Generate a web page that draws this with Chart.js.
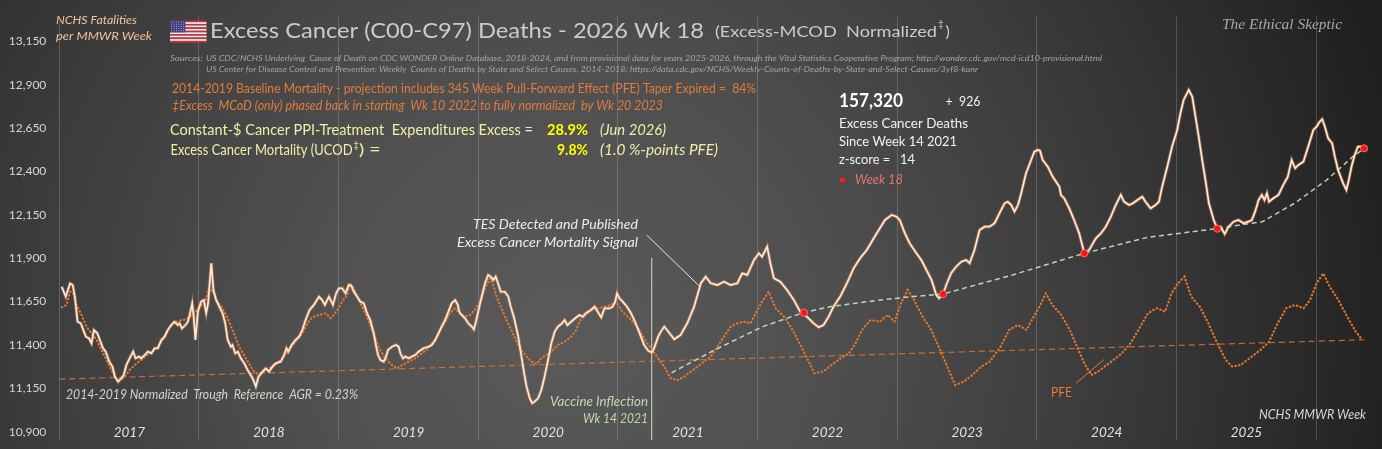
<!DOCTYPE html>
<html>
<head>
<meta charset="utf-8">
<script src="https://cdn.jsdelivr.net/npm/chart.js@4.4.1/dist/chart.umd.min.js"></script>
<style>
html, body { margin: 0; padding: 0; background: #2a2a2a; }
canvas { display: block; }
</style>
</head>
<body>
<canvas id="chart1" width="1382" height="449"></canvas>
<script>
// weeks counted from MMWR 2017 wk 1 (52 per year on the axis)
var weekTicks = [0, 52, 104, 156, 208, 260, 312, 364, 416, 468];
var yearLabels = ['2017', '2018', '2019', '2020', '2021', '2022', '2023', '2024', '2025', ''];
var deathTicks = [10900, 11150, 11400, 11650, 11900, 12150, 12400, 12650, 12900, 13150];

// NCHS weekly cancer deaths (normalized)
var mainWeeks = [
  0.9, 2.4, 4.0, 5.0, 5.8, 6.8, 8.0, 9.9, 11.1, 12.0,
  12.9, 14.2, 15.1, 16.3, 17.3, 18.6, 19.8, 20.7, 21.9, 23.1,
  24.0, 25.0, 26.2, 27.5, 28.4, 29.7, 30.5, 31.8, 33.0, 34.3,
  35.5, 36.7, 38.0, 39.2, 40.4, 41.7, 42.9, 44.1, 44.8, 45.7,
  47.0, 47.9, 48.7, 49.5, 50.1, 50.7, 51.6, 52.8, 53.8, 54.7,
  55.4, 56.1, 56.6, 57.4, 58.4, 59.6, 60.8, 61.8, 62.7, 63.9,
  64.5, 65.5, 66.5, 67.6, 68.9, 70.1, 72.0, 73.2, 74.2, 75.7,
  76.9, 78.1, 79.4, 80.6, 82.5, 83.7, 84.6, 85.3, 86.5, 88.0,
  89.3, 90.5, 91.7, 93.2, 94.8, 96.7, 97.9, 98.9, 100.4, 101.9,
  103.1, 104.1,
  105.3, 106.6, 107.8, 108.8, 109.7, 110.9, 112.1, 113.4, 114.6, 115.8,
  117.1, 117.9, 118.7, 119.6, 120.8, 121.7, 122.4, 123.9, 125.4, 126.4,
  127.0, 128.0, 128.8, 130.1, 131.3, 132.5, 133.8, 135.6, 137.5, 138.7,
  140.0, 141.2, 142.4, 143.7, 144.9, 146.1, 147.4, 148.4, 148.9, 149.8,
  151.1, 152.3, 153.6, 154.4, 155.0, 156.0, 157.3, 158.5, 159.7, 160.7,
  161.6, 162.5, 163.4, 164.4, 165.9, 167.2, 168.1, 169.4, 170.9, 172.1,
  173.1, 174.0, 175.2, 176.1, 177.0, 178.3, 179.5, 180.7, 182.0, 183.2,
  184.5, 185.7, 187.2, 188.2, 189.2, 190.6, 192.1, 193.7, 195.0, 196.2,
  198.1, 199.3, 200.5, 201.8, 203.0, 204.9, 206.1, 207.0, 207.7, 208.6,
  209.8, 211.4, 212.9, 214.1, 215.4, 216.6, 217.8, 219.3, 220.6, 221.5,
  223.0, 224.0,
  225.3, 229.0, 231.4, 233.9, 236.4, 238.9, 240.7, 242.6, 245.1, 247.5,
  250.0, 252.5, 254.3, 256.2, 258.7, 260.5, 261.7, 263.6, 264.8, 266.1,
  268.5, 271.0, 273.5, 275.9, 278.4, 280.9, 282.8, 284.6, 286.5, 288.3,
  290.8, 293.3, 295.8, 298.2, 300.7, 304.4, 307.5, 310.0, 311.8,
  313.0, 314.9, 316.7, 319.2, 321.0, 322.9, 324.8, 326.6, 327.6, 329.1,
  330.3, 332.1, 334.0, 335.9, 337.7, 339.0, 340.8, 342.7, 344.6, 346.4,
  348.3, 350.1, 352.0, 353.2, 354.5, 355.7, 357.0, 358.2, 360.0, 361.9,
  363.1, 364.4, 365.2, 366.2, 368.1, 369.9, 372.4, 373.0, 374.2, 376.1,
  377.9, 379.8, 381.7, 383.5, 386.0, 387.9, 389.7, 391.6, 393.4, 395.3,
  396.5, 398.4, 399.8, 401.5, 403.3, 404.5, 406.4, 408.2, 409.5, 410.7,
  412.6, 414.4, 416.3, 417.5, 418.7, 420.6, 421.9, 423.1, 424.3, 425.6,
  426.8, 428.1, 429.9, 431.2, 432.4, 434.0, 435.4, 437.3, 439.1, 441.0,
  442.8, 444.1, 445.3, 446.6, 447.8, 448.8, 449.7, 450.5, 452.1, 454.0,
  455.8, 457.5, 458.9, 460.2, 461.4, 463.3, 465.1, 467.0, 468.2, 469.4,
  470.3, 471.3, 472.5, 474.0, 475.0, 476.2, 478.1, 479.3, 480.2, 481.2,
  482.4, 483.6, 484.9, 485.9
];
var mainDeaths = [
  11736, 11679, 11755, 11746, 11679, 11534, 11525, 11448, 11438, 11409,
  11486, 11467, 11429, 11381, 11361, 11304, 11275, 11217, 11188, 11208,
  11227, 11285, 11323, 11362, 11323, 11333, 11323, 11342, 11362, 11352,
  11381, 11381, 11429, 11448, 11486, 11515, 11534, 11515, 11525, 11496,
  11515, 11534, 11583, 11640, 11554, 11429, 11592, 11650, 11659, 11583,
  11640, 11775, 11871, 11717, 11659, 11621, 11583, 11525, 11429, 11390,
  11400, 11352, 11361, 11323, 11294, 11256, 11208, 11160, 11217, 11246,
  11265, 11246, 11275, 11294, 11304, 11342, 11381, 11361, 11400, 11429,
  11448, 11486, 11544, 11602, 11631, 11679, 11659, 11631, 11679, 11631,
  11698, 11727,
  11727, 11698, 11746, 11740, 11707, 11679, 11650, 11640, 11583, 11544,
  11467, 11400, 11342, 11313, 11304, 11333, 11371, 11390, 11400, 11390,
  11352, 11323, 11333, 11323, 11333, 11342, 11361, 11381, 11390, 11400,
  11429, 11467, 11506, 11544, 11592, 11640, 11659, 11631, 11592, 11573,
  11554, 11525, 11506, 11490, 11525, 11592, 11679, 11755, 11804, 11794,
  11775, 11794, 11755, 11707, 11707, 11679, 11621, 11554, 11448, 11333,
  11236, 11160, 11092, 11064, 11073, 11092, 11140, 11217, 11313, 11409,
  11477, 11506, 11525, 11544, 11515, 11534, 11554, 11573, 11563, 11583,
  11602, 11621, 11592, 11559, 11611, 11611, 11621, 11650, 11698, 11669,
  11650, 11621, 11583, 11544, 11496, 11448, 11400, 11367, 11356, 11381,
  11448, 11477,
  11506, 11433, 11458, 11527, 11621, 11756, 11794, 11756, 11746, 11765,
  11746, 11756, 11813, 11804, 11890, 11929, 11909, 11967, 11871, 11785,
  11765, 11717, 11660, 11592, 11563, 11525, 11502, 11515, 11563, 11621,
  11679, 11756, 11842, 11900, 11948, 12044, 12121, 12150, 12140,
  12120, 12044, 11986, 11929, 11890, 11833, 11775, 11688, 11669, 11694,
  11746, 11814, 11852, 11880, 11890, 11871, 11948, 12063, 12082, 12082,
  12102, 12159, 12217, 12226, 12207, 12169, 12207, 12275, 12390, 12467,
  12515, 12525, 12520, 12467, 12428, 12371, 12313, 12265, 12246, 12188,
  12121, 12044, 11929, 11948, 12015, 12044, 12082, 12140, 12207, 12265,
  12226, 12207, 12217, 12236, 12255, 12226, 12188, 12207, 12226, 12313,
  12428, 12544, 12640, 12736, 12813, 12871, 12832, 12717, 12601, 12467,
  12352, 12217, 12121, 12071, 12082, 12040, 12082, 12111, 12121, 12102,
  12111, 12121, 12169, 12236, 12265, 12236, 12275, 12226, 12246, 12265,
  12323, 12371, 12467, 12419, 12438, 12457, 12544, 12640, 12659, 12688,
  12702, 12659, 12592, 12563, 12486, 12409, 12332, 12294, 12352, 12428,
  12496, 12544, 12544, 12534
];

// baseline mortality with pull-forward effect (dotted)
var pfeWeeks = [
  0.9, 2.7, 4.0, 5.2, 6.4, 8.3, 10.1, 12.0, 13.9, 15.7,
  17.6, 19.4, 21.3, 22.8, 24.4, 26.2, 28.7, 31.2, 33.6, 36.1,
  38.6, 40.4, 42.3, 44.8, 47.2, 49.7, 52.2, 54.0, 55.9, 57.1,
  59.0, 60.8, 62.7, 64.5, 67.0, 69.5, 72.0, 73.8, 75.7, 78.1,
  80.6, 83.1, 85.6, 88.0, 90.5, 92.4, 94.2, 96.7, 99.2, 101.0,
  102.2, 103.5, 105.3, 107.2,
  108.4, 109.7, 111.5, 114.0, 116.5, 118.9, 121.4, 123.9, 125.7, 127.6,
  130.1, 132.5, 135.0, 137.5, 139.9, 141.8, 143.7, 145.5, 147.4, 149.2,
  151.1, 152.9, 154.8, 156.6, 158.5, 160.4, 161.6, 162.8, 164.7, 166.5,
  168.4, 170.2, 172.1, 174.0, 175.8, 177.7, 179.5, 181.4, 183.2, 185.7,
  188.2, 190.6, 192.5, 193.7, 195.6, 198.1, 200.5, 203.0, 205.5, 207.3,
  209.2, 211.7, 214.1, 216.0, 217.8, 220.3,
  225.3, 227.7, 230.2, 232.7, 235.1, 237.6, 240.1, 242.6, 245.1, 247.5,
  250.0, 252.5, 255.0, 257.4, 259.3, 261.7, 264.2, 266.7, 269.9, 273.1,
  276.3, 278.8, 281.2, 284.4, 287.6, 290.9, 294.1, 296.5, 298.9, 302.1,
  305.4, 308.6, 311.0, 313.4, 315.9, 318.3, 321.5, 324.7, 328.0, 331.2,
  333.6, 336.8, 340.0, 343.3, 346.5, 350.5, 353.7, 357.0, 360.2, 361.8,
  365.0, 367.4, 369.8, 373.1, 376.3, 379.5, 382.0, 384.4, 386.8, 389.2,
  392.5, 395.7, 398.9, 402.2, 405.4, 408.6, 411.8, 414.2, 416.6, 419.0,
  421.5, 424.7, 427.9, 431.2, 434.4, 436.8, 440.0, 443.2, 447.3, 450.5,
  453.7, 456.9, 460.2, 463.4, 465.8, 468.2, 470.7, 473.1, 476.3, 479.6,
  482.8, 485.2
];
var pfeDeaths = [
  11617, 11631, 11707, 11698, 11631, 11573, 11506, 11467, 11429, 11371,
  11313, 11256, 11208, 11198, 11217, 11256, 11294, 11323, 11352, 11381,
  11429, 11486, 11525, 11540, 11548, 11573, 11621, 11640, 11727, 11707,
  11650, 11611, 11554, 11486, 11390, 11323, 11256, 11233, 11240, 11265,
  11290, 11323, 11371, 11419, 11467, 11525, 11559, 11573, 11583, 11554,
  11573, 11602, 11650, 11688,
  11755, 11727, 11659, 11583, 11486, 11390, 11323, 11284, 11265, 11284,
  11304, 11323, 11352, 11381, 11429, 11486, 11534, 11583, 11611, 11583,
  11563, 11573, 11602, 11650, 11727, 11784, 11746, 11679, 11611, 11544,
  11486, 11419, 11371, 11333, 11304, 11290, 11323, 11342, 11361, 11400,
  11419, 11448, 11486, 11534, 11583, 11611, 11611, 11621, 11631, 11650,
  11602, 11563, 11525, 11486, 11438, 11381,
  11275, 11208, 11198, 11217, 11246, 11275, 11304, 11333, 11390, 11448,
  11506, 11525, 11534, 11525, 11583, 11650, 11707, 11612, 11563, 11487,
  11390, 11313, 11237, 11246, 11285, 11323, 11352, 11410, 11486, 11544,
  11534, 11573, 11534, 11640, 11717, 11660, 11563, 11487, 11371, 11256,
  11169, 11188, 11227, 11275, 11304, 11390, 11487, 11515, 11487, 11534,
  11621, 11698, 11631, 11573, 11487, 11371, 11285, 11227, 11246, 11275,
  11313, 11352, 11410, 11496, 11583, 11612, 11592, 11698, 11756, 11794,
  11679, 11621, 11525, 11410, 11313, 11275, 11285, 11323, 11371, 11419,
  11525, 11612, 11631, 11612, 11660, 11756, 11813, 11736, 11660, 11563,
  11477, 11429
];

// 2014-2019 normalized trough reference, AGR 0.23%
var troughWeeks = [0, 486];
var troughDeaths = [11203, 11430];

// post-vaccine trough trend
var trendWeeks = [228, 244, 262, 277, 287, 306, 318, 329, 355, 381.5, 405, 431, 448, 460, 472, 482, 486];
var trendDeaths = [11240, 11371, 11506, 11586, 11621, 11660, 11679, 11694, 11804, 11928, 12020, 12071, 12111, 12217, 12352, 12490, 12534];

// week 18 markers
var wk18Weeks = [277.3, 329.1, 381.7, 431.2, 485.9];
var wk18Deaths = [11586, 11694, 11929, 12071, 12534];

var vaccineWeek = 220.6;

var FONT = 'Lato, "Open Sans", "DejaVu Sans", sans-serif';
var ORANGE = 'rgb(226,124,58)';
var CREAM = '#f1eea6';

function pts(xs, ys) {
    return xs.map(function (x, i) { return { x: x, y: ys[i] }; });
}

function label(c, s, x, y, o) {
    c.save();
    c.font = (o.style || 'normal') + ' ' + (o.weight || 'normal') + ' ' + (o.size || 13) + 'px ' + (o.family || FONT);
    c.fillStyle = o.color || '#d9d9d9';
    c.textAlign = o.align || 'left';
    c.textBaseline = 'alphabetic';
    var sx = 1;
    if (o.w) {
        sx = o.w / c.measureText(s).width;
        sx = Math.max(0.7, Math.min(1.3, sx));
    }
    c.translate(x, y);
    c.scale(sx, 1);
    c.fillText(s, 0, 0);
    c.restore();
}

function flag(c, x, y, w, h) {
    var sh = h / 13;
    for (var i = 0; i < 13; i++) {
        c.fillStyle = i % 2 ? '#eeeeee' : '#c3303f';
        c.fillRect(x, y + i * sh, w, sh + 0.2);
    }
    c.fillStyle = '#3d3f7a';
    c.fillRect(x, y, w * 0.42, sh * 7);
    c.fillStyle = '#dcdcf0';
    for (var r = 0; r < 5; r++) {
        for (var k = 0; k < 6; k++) {
            c.fillRect(x + 1.3 + k * 2.4, y + 1.1 + r * 2.2, 0.8, 0.8);
        }
    }
}

var decor = {
    id: 'decor',
    beforeDraw: function (chart) {
        var c = chart.ctx;
        c.save();
        var g = c.createRadialGradient(560, 330, 0, 560, 330, 900);
        g.addColorStop(0, '#5a5a5a');
        g.addColorStop(0.3, '#4f4f4f');
        g.addColorStop(0.62, '#3a3a3a');
        g.addColorStop(1, '#1c1c1c');
        c.fillStyle = g;
        c.fillRect(0, 0, chart.width, chart.height);
        c.restore();
    },
    beforeDatasetsDraw: function (chart) {
        var c = chart.ctx;
        var xs = chart.scales.x;
        var area = chart.chartArea;
        var vx = xs.getPixelForValue(vaccineWeek);
        c.save();
        c.strokeStyle = 'rgba(200,225,190,0.85)';
        c.lineWidth = 1.2;
        c.beginPath();
        c.moveTo(vx, 258);
        c.lineTo(vx, area.bottom);
        c.stroke();
        // leader lines
        c.strokeStyle = '#e6e6e6';
        c.lineWidth = 1;
        c.beginPath();
        c.moveTo(646.7, 235);
        c.lineTo(700, 286.7);
        c.stroke();
        c.strokeStyle = ORANGE;
        c.beginPath();
        c.moveTo(1076, 383.3);
        c.lineTo(1104.3, 359.3);
        c.stroke();
        c.restore();
    },
    afterDatasetsDraw: function (chart) {
        var c = chart.ctx;
        flag(c, 170, 20.5, 36.5, 22);

        label(c, 'NCHS Fatalities', 56, 24, { size: 12, style: 'italic', color: '#f1c49e', w: 81 });
        label(c, 'per MMWR Week', 56, 39.5, { size: 12, style: 'italic', color: '#f1c49e', w: 96 });

        label(c, 'Excess Cancer (C00-C97) Deaths - 2026 Wk 18', 210, 38, { size: 21, color: '#cbcbcb', w: 494 });
        label(c, '(Excess-MCOD  Normalized', 715, 36.5, { size: 16, color: '#cbcbcb', w: 222 });
        label(c, '\u2021', 938, 27, { size: 10, color: '#cbcbcb' });
        label(c, ')', 945.5, 36.5, { size: 16, color: '#cbcbcb' });

        label(c, 'Sources:', 170, 60.5, { size: 8, style: 'italic', color: '#a4a4a4', w: 33 });
        label(c, 'US CDC/NCHS Underlying  Cause of Death on CDC WONDER Online Database, 2018-2024, and from provisional data for years 2025-2026, through the Vital Statistics Cooperative Program; http://wonder.cdc.gov/mcd-icd10-provisional.html',
            206, 60.5, { size: 8, style: 'italic', color: '#a4a4a4', w: 896 });
        label(c, 'US Center for Disease Control and Prevention: Weekly  Counts of Deaths by State and Select Causes, 2014-2018; https://data.cdc.gov/NCHS/Weekly-Counts-of-Deaths-by-State-and-Select-Causes/3yf8-kanr',
            206, 71.5, { size: 8, style: 'italic', color: '#a4a4a4', w: 772 });

        label(c, '2014-2019 Baseline Mortality - projection includes 345 Week Pull-Forward Effect (PFE) Taper Expired =  84%',
            172, 92.5, { size: 12.5, color: ORANGE, w: 584 });
        label(c, '\u2021Excess  MCoD (only) phased back in starting  Wk 10 2022 to fully normalized  by Wk 20 2023',
            172, 109.5, { size: 12.5, style: 'italic', color: ORANGE, w: 491 });

        label(c, 'Constant-$ Cancer PPI-Treatment  Expenditures Excess =', 170, 134.5, { size: 15, color: CREAM, w: 363 });
        label(c, '28.9%', 547, 134.5, { size: 15, weight: 'bold', color: '#ffff00', w: 41 });
        label(c, '(Jun 2026)', 600, 134.5, { size: 15, style: 'italic', color: CREAM, w: 66 });
        label(c, 'Excess Cancer Mortality (UCOD', 170.5, 155, { size: 15, color: CREAM, w: 182 });
        label(c, '\u2021', 353.5, 148, { size: 9, color: CREAM });
        label(c, ') =', 359, 155, { size: 15, color: CREAM, w: 37 });
        label(c, '9.8%', 557, 155, { size: 15, weight: 'bold', color: '#ffff00', w: 31 });
        label(c, '(1.0 %-points PFE)', 600, 155, { size: 15, style: 'italic', color: CREAM, w: 118 });

        label(c, '157,320', 839, 107, { size: 19, weight: 'bold', color: '#ffffff', w: 64 });
        label(c, '+  926', 945.5, 106, { size: 13, color: '#f2f2f2', w: 35 });
        label(c, 'Excess Cancer Deaths', 839, 127.5, { size: 14, color: '#f2f2f2', w: 129 });
        label(c, 'Since Week 14 2021', 839, 145.5, { size: 14, color: '#f2f2f2', w: 118 });
        label(c, 'z-score =   14', 839, 163.5, { size: 14, color: '#f2f2f2', w: 76 });
        c.fillStyle = '#ff1a1a';
        c.fillRect(840, 178, 5, 4.5);
        label(c, 'Week 18', 855, 184, { size: 14, style: 'italic', color: '#e57474', w: 48 });

        label(c, 'The Ethical Skeptic', 1222, 29, { size: 15, style: 'italic', family: '"Liberation Serif", "DejaVu Serif", serif', color: '#a8a8a8', w: 120 });

        label(c, 'TES Detected and Published', 638, 229, { size: 14, style: 'italic', color: '#ececec', align: 'right', w: 165 });
        label(c, 'Excess Cancer Mortality Signal', 638, 246.5, { size: 14, style: 'italic', color: '#ececec', align: 'right', w: 181 });

        label(c, '2014-2019 Normalized  Trough  Reference  AGR = 0.23%', 66, 398.5, { size: 13, style: 'italic', color: '#d6d2cc', w: 292 });

        label(c, 'Vaccine Inflection', 648, 405.5, { size: 13.5, style: 'italic', color: '#bcdaaa', align: 'right', w: 98 });
        label(c, 'Wk 14 2021', 648, 422.5, { size: 13.5, style: 'italic', color: '#bcdaaa', align: 'right', w: 65 });

        label(c, 'PFE', 1051, 397, { size: 12.5, color: ORANGE, w: 21 });
        label(c, 'NCHS MMWR Week', 1366, 419, { size: 13, style: 'italic', color: '#d6d6d6', align: 'right', w: 107 });
    }
};

var ctx = document.getElementById('chart1').getContext('2d');
var chart = new Chart(ctx, {
    type: 'line',
    data: {
        datasets: [{
            label: 'Week 18',
            data: pts(wk18Weeks, wk18Deaths),
            showLine: false,
            pointRadius: 3.6,
            pointStyle: 'circle',
            pointBackgroundColor: '#ff1414',
            pointBorderColor: 'rgba(255,110,110,0.9)',
            pointBorderWidth: 1
        }, {
            label: 'Cancer deaths',
            data: pts(mainWeeks, mainDeaths),
            borderColor: 'rgb(253,233,218)',
            borderWidth: 1.7,
            pointRadius: 0
        }, {
            label: 'Cancer deaths glow',
            data: pts(mainWeeks, mainDeaths),
            borderColor: 'rgba(232,138,78,0.5)',
            borderWidth: 3.4,
            pointRadius: 0
        }, {
            label: 'Trough trend',
            data: pts(trendWeeks, trendDeaths),
            borderColor: 'rgba(205,230,200,0.9)',
            borderWidth: 1.5,
            borderDash: [5, 3.5],
            pointRadius: 0
        }, {
            label: 'PFE',
            data: pts(pfeWeeks, pfeDeaths),
            borderColor: 'rgb(228,118,44)',
            borderWidth: 2.2,
            borderDash: [0.5, 3.3],
            borderCapStyle: 'round',
            pointRadius: 0
        }, {
            label: 'Trough reference',
            data: pts(troughWeeks, troughDeaths),
            borderColor: 'rgba(222,116,50,0.85)',
            borderWidth: 1.2,
            borderDash: [6, 4],
            pointRadius: 0
        }]
    },
    options: {
        responsive: false,
        animation: false,
        layout: { padding: { top: 15.5, left: 0, right: 0, bottom: 0 } },
        elements: { line: { tension: 0 } },
        plugins: { legend: { display: false }, tooltip: { enabled: false } },
        scales: {
            x: {
                type: 'linear',
                min: 0,
                max: 490.7,
                afterBuildTicks: function (s) { s.ticks = weekTicks.map(function (v) { return { value: v }; }); },
                afterFit: function (s) {
                    s.height = 9;
                    s.paddingLeft = 0;
                    s.paddingRight = 0;
                },
                ticks: {
                    autoSkip: false,
                    maxRotation: 0,
                    mirror: true,
                    padding: -1,
                    labelOffset: 70,
                    color: '#e2e2e2',
                    font: { family: FONT, size: 13.5, style: 'italic' },
                    callback: function (v, i) { return yearLabels[i]; }
                },
                grid: { color: 'rgba(200,200,200,0.25)', lineWidth: 1, drawTicks: false },
                border: { display: false }
            },
            y: {
                min: 10852,
                max: 13300,
                afterBuildTicks: function (s) { s.ticks = deathTicks.map(function (v) { return { value: v }; }); },
                afterFit: function (s) {
                    s.width = 59.3;
                    s.paddingTop = 0;
                    s.paddingBottom = 0;
                },
                ticks: {
                    padding: 13,
                    color: '#d6d6d6',
                    font: { family: FONT, size: 12 },
                    callback: function (v) { return v.toLocaleString('en-US'); }
                },
                grid: { display: false, drawTicks: false },
                border: { display: false }
            }
        }
    },
    plugins: [decor]
});
</script>
</body>
</html>
